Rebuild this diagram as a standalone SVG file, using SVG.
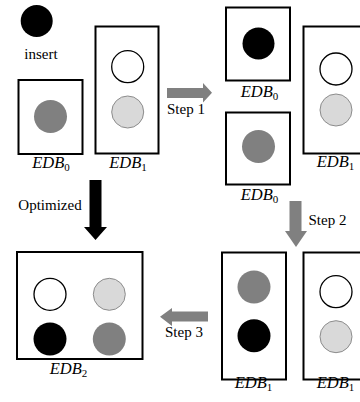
<svg xmlns="http://www.w3.org/2000/svg" width="360" height="402" viewBox="0 0 360 402">
<style>
.box{fill:#fff;stroke:#000;stroke-width:2}
.w{fill:#fff;stroke:#000;stroke-width:1.3}
.lg{fill:#d9d9d9;stroke:#8c8c8c;stroke-width:1}
.g{fill:#808080}
.k{fill:#000}
text{font-family:'Liberation Serif','DejaVu Serif',serif}
.t{font-size:15px;fill:#000}
.lbl{font-size:16.5px;font-style:italic;fill:#000}
.sub{font-size:11px;font-style:normal}
.ga{fill:#808080}
.ka{fill:#000}
</style>
<rect width="360" height="402" fill="#fff"/>
<g id="insert">
<circle class="k" cx="36.7" cy="21" r="16"/>
<text class="t" x="41" y="59" text-anchor="middle" font-family="Liberation Serif">insert</text>
</g>
<g id="edb0-a">
<rect class="box" x="18.5" y="80" width="64" height="74"/>
<circle class="g" cx="50.5" cy="116.5" r="16.5"/>
<text class="lbl" x="51" y="168" text-anchor="middle" font-family="Liberation Serif">EDB<tspan class="sub" dy="3">0</tspan></text>
</g>
<g id="edb1-a">
<rect class="box" x="95.5" y="26.5" width="63" height="127"/>
<circle class="w" cx="127.7" cy="66.7" r="16"/>
<circle class="lg" cx="127.7" cy="112" r="16"/>
<text class="lbl" x="128" y="168" text-anchor="middle" font-family="Liberation Serif">EDB<tspan class="sub" dy="3">1</tspan></text>
</g>
<g id="edb0-b">
<rect class="box" x="226" y="7.5" width="64" height="73"/>
<circle class="k" cx="258.5" cy="43.5" r="16"/>
<text class="lbl" x="259.5" y="97" text-anchor="middle" font-family="Liberation Serif">EDB<tspan class="sub" dy="3">0</tspan></text>
</g>
<g id="edb0-c">
<rect class="box" x="226" y="112.5" width="64" height="72"/>
<circle class="g" cx="258.5" cy="146.5" r="16.5"/>
<text class="lbl" x="259.5" y="200" text-anchor="middle" font-family="Liberation Serif">EDB<tspan class="sub" dy="3">0</tspan></text>
</g>
<g id="edb1-b">
<rect class="box" x="303.5" y="26.5" width="64" height="127"/>
<circle class="w" cx="336" cy="69" r="16"/>
<circle class="lg" cx="336" cy="110" r="16"/>
<text class="lbl" x="335.5" y="167" text-anchor="middle" font-family="Liberation Serif">EDB<tspan class="sub" dy="3">1</tspan></text>
</g>
<g id="edb1-c">
<rect class="box" x="222" y="252.5" width="64" height="127"/>
<circle class="g" cx="254" cy="287" r="16.5"/>
<circle class="k" cx="254" cy="335.7" r="16.5"/>
<text class="lbl" x="253.5" y="388" text-anchor="middle" font-family="Liberation Serif">EDB<tspan class="sub" dy="3">1</tspan></text>
</g>
<g id="edb1-d">
<rect class="box" x="303.5" y="252.5" width="64" height="127"/>
<circle class="w" cx="336" cy="291.7" r="16"/>
<circle class="lg" cx="336" cy="336.7" r="16"/>
<text class="lbl" x="335.5" y="388" text-anchor="middle" font-family="Liberation Serif">EDB<tspan class="sub" dy="3">1</tspan></text>
</g>
<g id="edb2">
<rect class="box" x="17" y="252" width="125.5" height="107"/>
<circle class="w" cx="50" cy="294.3" r="16"/>
<circle class="lg" cx="109.3" cy="294.3" r="16"/>
<circle class="k" cx="50" cy="339" r="16.5"/>
<circle class="g" cx="109.3" cy="339" r="16.5"/>
<text class="lbl" x="68.5" y="374" text-anchor="middle" font-family="Liberation Serif">EDB<tspan class="sub" dy="3">2</tspan></text>
</g>
<g id="connectors">
<polygon class="ga" points="167,88 203,88 203,83 212,92.8 203,102.5 203,98 167,98"/>
<text class="t" x="186" y="113.5" text-anchor="middle" font-family="Liberation Serif">Step 1</text>
<polygon class="ka" points="89.5,180 101.5,180 101.5,227 107,227 95.5,240 84,227 89.5,227"/>
<text class="t" x="50" y="210" text-anchor="middle" font-family="Liberation Serif">Optimized</text>
<polygon class="ga" points="289.5,201 301.5,201 301.5,231 307,231 296,247 285,231 289.5,231"/>
<text class="t" x="327.5" y="225" text-anchor="middle" font-family="Liberation Serif">Step 2</text>
<polygon class="ga" points="208,311.5 172,311.5 172,308 160,316.8 172,326 172,321.5 208,321.5"/>
<text class="t" x="184" y="337" text-anchor="middle" font-family="Liberation Serif">Step 3</text>
</g>
</svg>
